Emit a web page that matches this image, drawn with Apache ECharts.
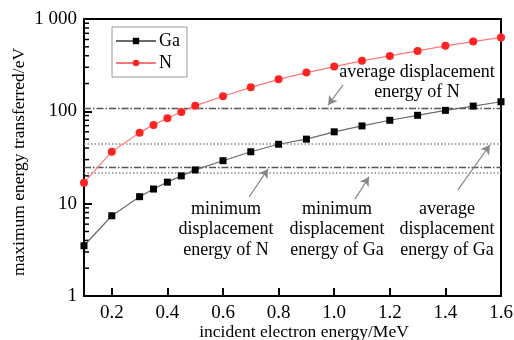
<!DOCTYPE html>
<html>
<head>
<meta charset="utf-8">
<script src="https://cdn.jsdelivr.net/npm/echarts@6/dist/echarts.min.js"></script>
<style>
  html, body { margin: 0; padding: 0; background: #fff; }
  #chart { width: 514px; height: 340px; }
</style>
</head>
<body>
<div id="chart"></div>
<script>
// incident electron energy (MeV)
const energies = [0.1, 0.2, 0.3, 0.35, 0.4, 0.45, 0.5, 0.6, 0.7, 0.8, 0.9, 1.0, 1.1, 1.2, 1.3, 1.4, 1.5, 1.6];
// maximum energy transferred (eV)
const gaValues = [3.5, 7.4, 11.9, 14.4, 17.1, 20, 23.2, 29.2, 36.5, 44, 50, 60, 69.5, 80, 90.6, 102.5, 114, 127];
const nValues = [16.9, 36.6, 58.8, 71.3, 84, 98.5, 114.7, 145.6, 182, 222, 263, 305, 352, 398, 451, 512, 569, 631];

// displacement energy reference lines (eV)
const avgN = 109;
const avgGa = 44.5;
const minN = 24.8;
const minGa = 21.7;

const xTicks = [0.2, 0.4, 0.6, 0.8, 1.0, 1.2, 1.4, 1.6];
const yMinorTicks = [2, 3, 4, 5, 6, 7, 8, 9, 20, 30, 40, 50, 60, 70, 80, 90, 200, 300, 400, 500, 600, 700, 800, 900];

// arrows [tail, head] in data space
const arrows = [
  [[1.032, 193], [0.978, 117]],
  [[0.694, 11.8], [0.762, 23.8]],
  [[1.075, 11.2], [1.125, 19.5]],
  [[1.445, 14.1], [1.56, 43.2]]
];

const FONT = '"Liberation Serif", "Times New Roman", serif';

const chart = echarts.init(document.getElementById('chart'));

const option = {
  animation: false,
  textStyle: { fontFamily: FONT },
  grid: {
    left: 84, right: 13, top: 19, bottom: 44,
    outerBoundsMode: 'none',
    containLabel: false,
    show: true, borderColor: '#000', borderWidth: 2
  },
  legend: {
    orient: 'vertical',
    left: 112, top: 27,
    padding: [5, 7, 5, 3],
    borderColor: '#999', borderWidth: 1,
    itemWidth: 40, itemHeight: 8, itemGap: 4,
    data: ['Ga', 'N'],
    textStyle: { fontFamily: FONT, fontSize: 18, color: '#000', padding: [0, 0, 0, -2] }
  },
  xAxis: {
    type: 'value',
    min: 0.1, max: 1.6,
    axisLine: { lineStyle: { color: '#000', width: 2 } },
    axisTick: { inside: true, length: 8, customValues: xTicks, lineStyle: { color: '#000', width: 2 } },
    axisLabel: {
      customValues: xTicks,
      fontFamily: FONT, fontSize: 19, color: '#000', margin: 8,
      formatter: v => v.toFixed(1)
    },
    splitLine: { show: false }
  },
  yAxis: {
    type: 'log',
    logBase: 10,
    min: 1, max: 1000,
    axisLine: { lineStyle: { color: '#000', width: 2 } },
    axisTick: { inside: true, length: 8, lineStyle: { color: '#000', width: 2 } },
    axisLabel: {
      fontFamily: FONT, fontSize: 19, color: '#000', margin: 7,
      formatter: v => (v === 1000 ? '1 000' : String(v))
    },
    splitLine: { show: false }
  },
  series: [
    {
      name: 'Ga',
      type: 'line',
      data: energies.map((x, i) => [x, gaValues[i]]),
      symbol: 'rect',
      symbolSize: 7,
      lineStyle: { color: '#6a6a6a', width: 1.2 },
      itemStyle: { color: '#000' },
      z: 5,
      markLine: {
        silent: true,
        symbol: 'none',
        label: { show: false },
        data: [
          { yAxis: avgN, lineStyle: { color: '#555', width: 1.3, type: [7, 2, 1.5, 2] } },
          { yAxis: avgGa, lineStyle: { color: '#888', width: 1.5, type: [1.5, 2] } },
          { yAxis: minN, lineStyle: { color: '#555', width: 1.3, type: [7, 2, 1.5, 2] } },
          { yAxis: minGa, lineStyle: { color: '#888', width: 1.5, type: [1.5, 2] } }
        ]
      }
    },
    {
      name: 'N',
      type: 'line',
      data: energies.map((x, i) => [x, nValues[i]]),
      symbol: 'circle',
      symbolSize: 8,
      lineStyle: { color: '#f77', width: 1.2 },
      itemStyle: { color: '#f22' },
      z: 5,
      markLine: {
        silent: true,
        symbol: ['none', 'arrow'],
        symbolSize: [8, 9],
        label: { show: false },
        lineStyle: { color: '#888', width: 1.2, type: 'solid' },
        data: arrows.map(a => [{ coord: a[0] }, { coord: a[1] }])
      }
    },
    {
      // minor ticks on the log axis
      type: 'custom',
      silent: true,
      clip: false,
      data: yMinorTicks.map(v => [0.1, v]),
      renderItem: (params, api) => {
        const p = api.coord([api.value(0), api.value(1)]);
        return {
          type: 'line',
          shape: { x1: p[0], y1: p[1], x2: p[0] + 5, y2: p[1] },
          style: { stroke: '#000', lineWidth: 1.5 }
        };
      }
    }
  ]
};

// annotation labels and axis titles
const notes = [
  { x: 417, y: 62, text: 'average displacement\nenergy of N' },
  { x: 226, y: 199, text: 'minimum\ndisplacement\nenergy of N' },
  { x: 337, y: 199, text: 'minimum\ndisplacement\nenergy of Ga' },
  { x: 447, y: 199, text: 'average\ndisplacement\nenergy of Ga' }
];
option.graphic = notes.map(n => ({
  type: 'text',
  x: n.x, y: n.y,
  z: 10,
  style: {
    text: n.text,
    font: '18px ' + FONT,
    fill: '#000',
    align: 'center',
    verticalAlign: 'top',
    lineHeight: 20.5
  }
})).concat([
  {
    type: 'text',
    x: 304, y: 332,
    style: {
      text: 'incident electron energy/MeV',
      font: '17.5px ' + FONT, fill: '#000',
      align: 'center', verticalAlign: 'middle'
    }
  },
  {
    type: 'text',
    x: 19, y: 162,
    rotation: Math.PI / 2,
    style: {
      text: 'maximum energy transferred/eV',
      font: '17.5px ' + FONT, fill: '#000',
      align: 'center', verticalAlign: 'middle'
    }
  }
]);

chart.setOption(option);
</script>
</body>
</html>
